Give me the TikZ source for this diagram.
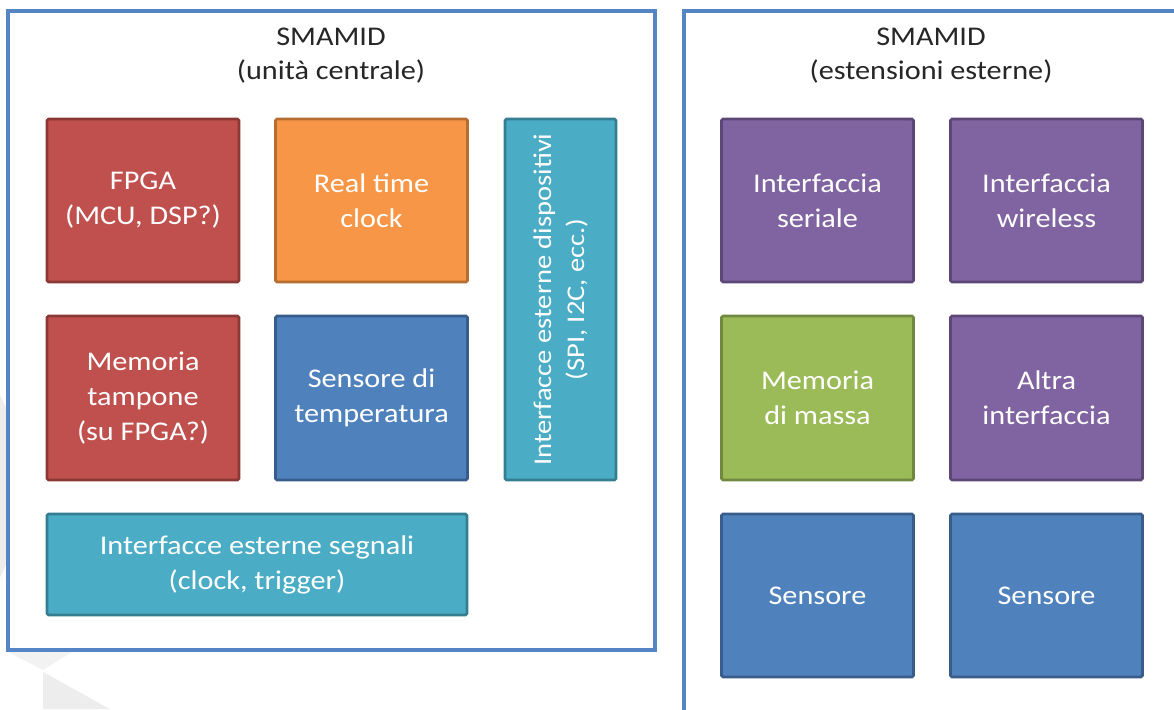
\documentclass[tikz,border=0pt]{standalone}
\usepackage{fontspec}
\newfontfamily\boxfont[FakeStretch=1.12]{Carlito}
\definecolor{cred}{HTML}{C0504D}\definecolor{credD}{HTML}{8C3836}
\definecolor{corange}{HTML}{F79646}\definecolor{corangeD}{HTML}{B66D31}
\definecolor{cteal}{HTML}{4BACC6}\definecolor{ctealD}{HTML}{357D91}
\definecolor{cblue}{HTML}{4F81BD}\definecolor{cblueD}{HTML}{385D8A}
\definecolor{cpurple}{HTML}{8064A2}\definecolor{cpurpleD}{HTML}{5C4776}
\definecolor{cgreen}{HTML}{9BBB59}\definecolor{cgreenD}{HTML}{71893F}
\definecolor{cframe}{HTML}{5585C5}
\tikzset{
  blk/.style={rectangle, line width=2.6pt, rounded corners=1.5pt, text=white,
    align=center, inner sep=0pt, font=\boxfont\fontsize{27}{35}\selectfont},
  redb/.style={blk, fill=cred, draw=credD},
  orangeb/.style={blk, fill=corange, draw=corangeD},
  tealb/.style={blk, fill=cteal, draw=ctealD},
  blueb/.style={blk, fill=cblue, draw=cblueD},
  purpleb/.style={blk, fill=cpurple, draw=cpurpleD},
  greenb/.style={blk, fill=cgreen, draw=cgreenD},
  sq/.style={minimum width=192pt, minimum height=163pt},
  frame/.style={draw=cframe, line width=3.4pt, fill=white},
  title/.style={align=center, text=black!85, font=\boxfont\fontsize{27}{34}\selectfont},
  wm/.style={fill=black!7, draw=none}
}
\begin{document}
\begin{tikzpicture}[x=1pt,y=-1pt]
\useasboundingbox (0,0) rectangle (1174,709);
% faint background shapes
\fill[wm] (0,395) -- (8,412) -- (8,560) -- (0,578) -- cycle;
\fill[black!5] (8,652) -- (72,652) -- (43,670) -- cycle;
\fill[wm] (43,672) -- (43,709) -- (110,709) -- cycle;
% containers
\draw[frame] (8,11) rectangle (655,650);
\draw[frame] (684,11) rectangle (1185,720);
\node[title] (t1) at (331,56) {SMAMID\\(unità centrale)};
\node[title] (t2) at (931,56) {SMAMID\\(estensioni esterne)};
% central unit
\node[redb, sq] (fpga) at (143,200.5) {FPGA\\(MCU, DSP?)};
\node[orangeb, sq] (rtc) at (371.5,200.5) {Real time\\clock};
\node[tealb, rotate=90, minimum width=361pt, minimum height=111pt,
  font=\boxfont\fontsize{25.5}{33}\selectfont] (ifd) at (560.5,299.5)
  {Interfacce esterne dispositivi\\(SPI, I2C, ecc.)};
\node[redb, sq, minimum height=164pt] (mem) at (143,398) {Memoria\\tampone\\(su FPGA?)};
\node[blueb, sq, minimum height=164pt] (temp) at (371.5,398) {Sensore di\\temperatura};
\node[tealb, minimum width=420pt, minimum height=101pt] (ifs) at (257,564.5)
  {Interfacce esterne segnali\\(clock, trigger)};
% extensions
\node[purpleb, sq] (ser) at (817.5,200.5) {Interfaccia\\seriale};
\node[purpleb, sq] (wl) at (1046.5,200.5) {Interfaccia\\wireless};
\node[greenb, sq, minimum height=164pt] (mm) at (817.5,398) {Memoria\\di massa};
\node[purpleb, sq, minimum height=164pt] (alt) at (1046.5,398) {Altra\\interfaccia};
\node[blueb, sq] (s1) at (817.5,595.5) {Sensore};
\node[blueb, sq] (s2) at (1046.5,595.5) {Sensore};
\end{tikzpicture}
\end{document}
